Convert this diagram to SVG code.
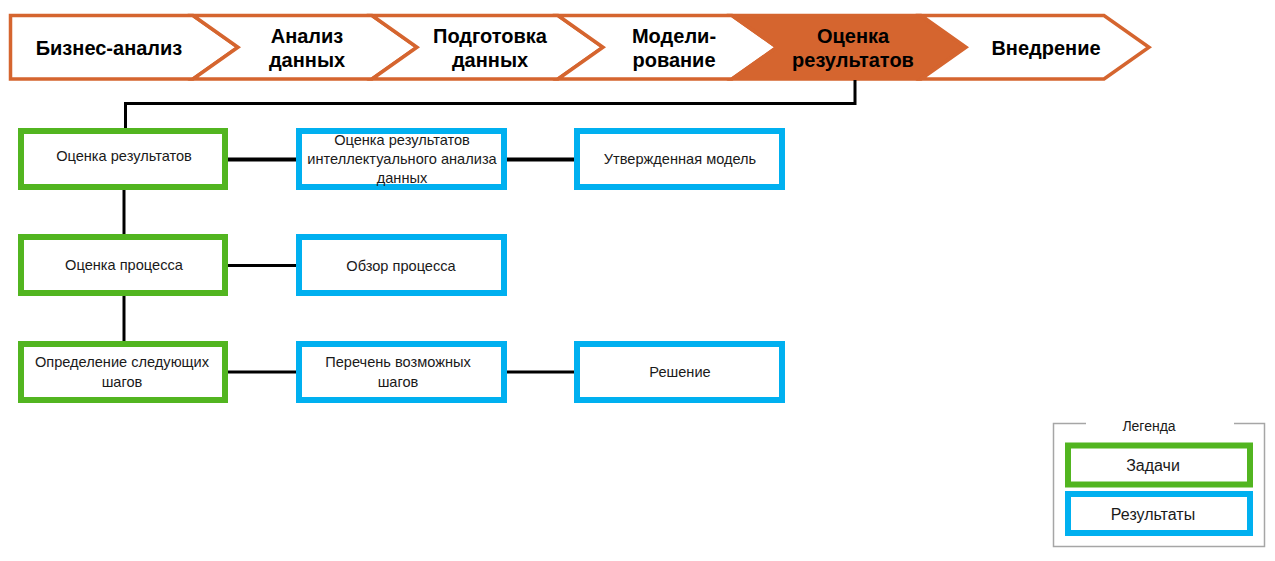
<svg xmlns="http://www.w3.org/2000/svg" width="1275" height="561" viewBox="0 0 1275 561">
<style>
.chev{fill:#FFFFFF;stroke:#D5652F;stroke-width:3.5;stroke-linejoin:miter}
.chev.active{fill:#D5652F}
.ct{font-family:"Liberation Sans",Arial,sans-serif;font-weight:bold;font-size:20px;fill:#000;text-anchor:middle}
.task{fill:#FFFFFF;stroke:#52B520;stroke-width:6}
.res{fill:#FFFFFF;stroke:#00B0F0;stroke-width:6}
.bt{font-family:"Liberation Sans",Arial,sans-serif;font-size:14.6px;fill:#1A1A1A;text-anchor:middle}
.conn{fill:none;stroke:#000;stroke-width:3}
.lt{font-family:"Liberation Sans",Arial,sans-serif;font-size:16px;fill:#1A1A1A;text-anchor:middle}
</style>
<rect width="1275" height="561" fill="#FFFFFF"/>

<g id="phase-business">
<polygon class="chev" points="10.5,15.5 193,15.5 238,47.25 193,79 10.5,79"/>
<text class="ct" x="109" y="55">Бизнес-анализ</text>
</g>
<g id="phase-analysis">
<polygon class="chev" points="193,15.5 372,15.5 417,47.25 372,79 193,79 238,47.25"/>
<text class="ct" x="307" y="43">Анализ</text>
<text class="ct" x="307" y="67">данных</text>
</g>
<g id="phase-prep">
<polygon class="chev" points="372,15.5 558,15.5 603,47.25 558,79 372,79 417,47.25"/>
<text class="ct" x="490" y="43">Подготовка</text>
<text class="ct" x="490" y="67">данных</text>
</g>
<g id="phase-model">
<polygon class="chev" points="558,15.5 732,15.5 777,47.25 732,79 558,79 603,47.25"/>
<text class="ct" x="674" y="43">Модели-</text>
<text class="ct" x="674" y="67">рование</text>
</g>
<g id="phase-eval">
<polygon class="chev active" points="732,15.5 921,15.5 966,47.25 921,79 732,79 777,47.25"/>
<text class="ct" x="853" y="43">Оценка</text>
<text class="ct" x="853" y="67">результатов</text>
</g>
<g id="phase-deploy">
<polygon class="chev" points="921,15.5 1104,15.5 1149,47.25 1104,79 921,79 966,47.25"/>
<text class="ct" x="1046" y="55">Внедрение</text>
</g>

<g id="connectors">
<path class="conn" d="M855,80 V103.5 H125.5 V128"/>
<path class="conn" d="M124,190 V234"/>
<path class="conn" d="M124,296 V341"/>
<path class="conn" d="M228,159.5 H296" style="stroke-width:4"/>
<path class="conn" d="M507,159.5 H574" style="stroke-width:4"/>
<path class="conn" d="M228,265.5 H296"/>
<path class="conn" d="M228,372 H296"/>
<path class="conn" d="M507,372 H574"/>
</g>

<g id="task-eval-results">
<rect class="task" x="21" y="131" width="204" height="56"/>
<text class="bt" x="124" y="161">Оценка результатов</text>
</g>
<g id="res-dm-eval">
<rect class="res" x="299" y="131" width="205" height="56"/>
<text class="bt" x="402" y="145">Оценка результатов</text>
<text class="bt" x="402" y="164">интеллектуального анализа</text>
<text class="bt" x="402" y="183">данных</text>
</g>
<g id="res-approved-model">
<rect class="res" x="577" y="131" width="205" height="56"/>
<text class="bt" x="680" y="164">Утвержденная модель</text>
</g>

<g id="task-process-eval">
<rect class="task" x="21" y="237" width="204" height="56"/>
<text class="bt" x="124" y="269.5">Оценка процесса</text>
</g>
<g id="res-process-review">
<rect class="res" x="299" y="237" width="205" height="56"/>
<text class="bt" x="401" y="271">Обзор процесса</text>
</g>

<g id="task-next-steps">
<rect class="task" x="21" y="344" width="204" height="56"/>
<text class="bt" x="122" y="367">Определение следующих</text>
<text class="bt" x="122" y="387">шагов</text>
</g>
<g id="res-possible-steps">
<rect class="res" x="299" y="344" width="205" height="56"/>
<text class="bt" x="398" y="367">Перечень возможных</text>
<text class="bt" x="398" y="387">шагов</text>
</g>
<g id="res-decision">
<rect class="res" x="577" y="344" width="205" height="56"/>
<text class="bt" x="680" y="377">Решение</text>
</g>

<g id="legend">
<path d="M1086,423.5 H1053.5 V546.5 H1264.5 V423.5 H1234" fill="none" stroke="#A6A6A6" stroke-width="1.5"/>
<text x="1149" y="431" style="font-family:'Liberation Sans',Arial,sans-serif;font-size:14px;fill:#1A1A1A;text-anchor:middle">Легенда</text>
<rect class="task" x="1068" y="445.5" width="182" height="39"/>
<text class="lt" x="1153" y="471">Задачи</text>
<rect class="res" x="1068" y="494" width="182" height="39"/>
<text class="lt" x="1153" y="520">Результаты</text>
</g>
</svg>
